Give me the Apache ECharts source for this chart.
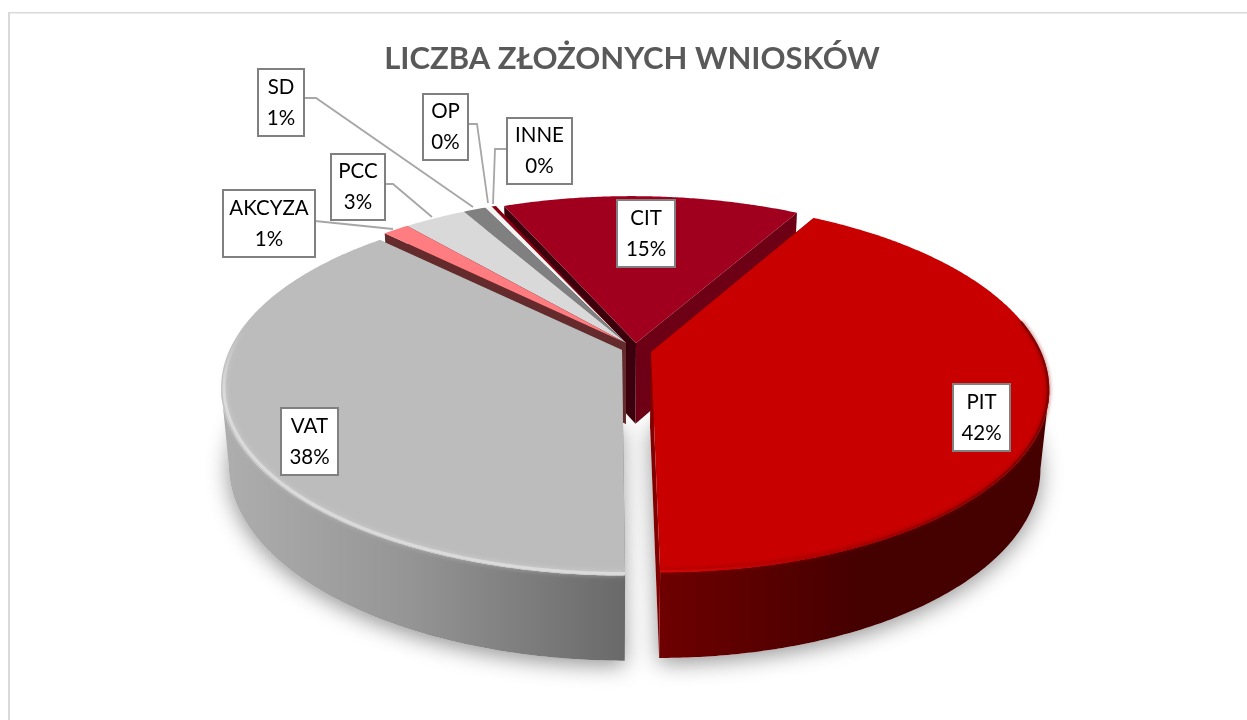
<!DOCTYPE html>
<html>
<head>
<meta charset="utf-8">
<style>html,body{margin:0;padding:0;background:#fff}#c{width:1247px;height:720px}</style>
<script src="https://cdn.jsdelivr.net/npm/echarts@6/dist/echarts.min.js"></script>
</head>
<body>
<div id="c"></div>
<script>
// ---- data (clockwise from the PIT slice) ----
const categories = ['PIT', 'VAT', 'AKCYZA', 'PCC', 'SD', 'OP', 'INNE', 'CIT'];
const values = [41.67, 37.55, 1.3, 3.1, 1.11, 0.33, 0.22, 14.72];
const titleText = 'LICZBA ZŁOŻONYCH WNIOSKÓW';

// ---- styling and layout (separate from data) ----
const firstAngle = 30;
const topColors  = ['#c80000', '#bcbcbc', '#ff7c80', '#d9d9d9', '#808080', '#f4f4f4', '#8a0010', '#a0001e'];
const faceStart  = ['#800000', '#777777', '#652a2c', '#7a7a7a', '#4a4a4a', '#999999', '#5a0010', '#3c000c'];
const faceEnd    = ['#800000', '#777777', '#652a2c', '#7a7a7a', '#4a4a4a', '#999999', '#5a0010', '#6e0015'];
const explodeX   = [41, 12, 16, 16, 16, 16, 16, 26];
const explodeY   = [3, 1, -6, -6, -6, -6, -6, -6];
const radiusX    = [390, 392.5, 390, 390, 390, 390, 390, 390];
const radiusY    = [179, 178, 179, 179, 179, 179, 179, 179];
const tiltK      = [0.184, 0.21, 0.21, 0.21, 0.21, 0.21, 0.21, 0.21];
const lowShift   = [1, 0, 5, 5, 5, 5, 5, 5];
const drawOrder  = [7, 6, 5, 4, 3, 2, 1, 0];
const labelBoxes = [[953,384,57,67],[281,408,57,67],[223,190,92,67],[331,154,54,66],[258,69,46,67],[423,94,45,66],[507,118,65,66],[617,200,58,67]];
const leaders = {
  2: [[315,221],[393,229]],
  3: [[385,184],[393,184],[432,217]],
  4: [[304,98],[316,98],[473,207]],
  5: [[468,124],[477,124],[488,203]],
  6: [[507,149],[495,149],[493,204]]
};
const labelFont = 'Lato';

const CX = 610, CY = 349;
const total = values.reduce((a, b) => a + b, 0);
const spans = [];
let run = firstAngle;
values.forEach(v => { const s = v / total * 360; spans.push([run, run + s]); run += s; });

function topPt(i, deg, r) {
  const t = deg * Math.PI / 180, u = Math.sin(t) * r, v = -Math.cos(t) * r, d = 1 - tiltK[i] * v;
  return [CX + (radiusX[i] * u + explodeX[i]) / d, CY + (radiusY[i] * v + explodeY[i]) / d];
}
function low(p, i) {
  return [CX + (p[0] - CX) * 0.98, 425 + lowShift[i] + (p[1] - CY) * 1.04];
}
function arc(i, a, b, r) {
  const pts = [], n = Math.max(2, Math.ceil(Math.abs(b - a) * 2));
  for (let j = 0; j <= n; j++) pts.push(topPt(i, a + (b - a) * j / n, r === undefined ? 1 : r));
  return pts;
}
function hGrad(x0, x1, stops) {
  return { type: 'linear', x: x0, y: 0, x2: x1, y2: 0, global: true,
    colorStops: stops.map(s => ({ offset: s[0], color: s[1] })) };
}
function vGrad(y0, y1, stops) {
  return { type: 'linear', x: 0, y: y0, x2: 0, y2: y1, global: true,
    colorStops: stops.map(s => ({ offset: s[0], color: s[1] })) };
}
const wallFill = {
  0: hGrad(660, 860, [[0, '#6e0000'], [1, '#450000']]),
  1: hGrad(230, 626, [[0, '#adadad'], [0.45, '#959595'], [1, '#696969']])
};

// outline of the visible outer wall: the near part of the lower rim, then the
// silhouette jump to the upper rim, and back along the upper rim
function wallOutline(i, top) {
  const lows = top.map(p => low(p, i));
  const dir = i === 1 ? -1 : 1;   // VAT's widest point is on the left, PIT's on the right
  const ext = pts => pts.reduce((best, p, k) => (p[0] * dir > pts[best][0] * dir ? k : best), 0);
  const jt = ext(top), jl = ext(lows);
  if (i === 1) {
    return lows.slice(0, jl + 1).concat(top.slice(0, jt + 1).reverse());
  }
  return lows.slice(jl).concat(top.slice(jt).reverse());
}

function renderShadow(params) {
  const i = drawOrder[params.dataIndex];
  if (i > 1) return { type: 'group', children: [] };
  const [a, b] = spans[i];
  const pts = arc(i, a, b).map(p => low(p, i));
  pts.push(low(topPt(i, a, 0), i));
  return { type: 'polygon', shape: { points: pts },
    style: { fill: '#ffffff', shadowBlur: 22, shadowColor: 'rgba(0,0,0,0.42)', shadowOffsetY: 5 } };
}

function renderSlice(params) {
  const i = drawOrder[params.dataIndex];
  const [a, b] = spans[i];
  const apex = topPt(i, a, 0), rimA = topPt(i, a, 1), rimB = topPt(i, b, 1);
  const ch = [];
  ch.push({ type: 'polygon', shape: { points: [apex, rimB, low(rimB, i), low(apex, i)] }, style: { fill: faceEnd[i] } });
  ch.push({ type: 'polygon', shape: { points: [apex, rimA, low(rimA, i), low(apex, i)] }, style: { fill: faceStart[i] } });
  const top = arc(i, a, b);
  if (wallFill[i]) {
    ch.push({ type: 'polygon', shape: { points: wallOutline(i, top) }, style: { fill: wallFill[i] } });
  }
  ch.push({ type: 'polygon', shape: { points: [apex].concat(top) }, style: { fill: topColors[i] } });
  if (i === 1) {
    ch.push({ type: 'polyline', shape: { points: arc(i, a, Math.min(b, 296), 0.993) },
      style: { fill: null, lineWidth: 3,
        stroke: vGrad(330, 395, [[0, 'rgba(222,222,222,0)'], [1, 'rgba(222,222,222,0.85)']]),
        shadowBlur: 5, shadowColor: 'rgba(222,222,222,0.8)' } });
  }
  if (i === 0) {
    ch.push({ type: 'polyline', shape: { points: arc(i, 80, b, 0.997) },
      style: { fill: null, lineWidth: 2.5,
        stroke: hGrad(660, 1050, [[0, '#d40606'], [0.4, '#b40000'], [0.8, '#8e0000'], [1, '#860000']]),
        shadowBlur: 4, shadowColor: 'rgba(130,0,0,0.8)' } });
  }
  return { type: 'group', children: ch };
}

function renderLabel(params) {
  const i = params.dataIndex;
  const [x, y, w, h] = labelBoxes[i];
  const ch = [];
  if (leaders[i]) {
    ch.push({ type: 'polyline', shape: { points: leaders[i] },
      style: { fill: null, stroke: '#a6a6a6', lineWidth: 1.8 } });
  }
  ch.push({ type: 'rect', shape: { x, y, width: w, height: h },
    style: { fill: '#ffffff', stroke: '#808080', lineWidth: 2 } });
  const pct = Math.round(values[i] / total * 100);
  ch.push({ type: 'text', style: {
    x: x + w / 2, y: y + h / 2, text: categories[i] + '\n' + pct + '%',
    align: 'center', verticalAlign: 'middle', fill: '#000000',
    fontFamily: labelFont, fontSize: 20.5, lineHeight: 31 } });
  return { type: 'group', children: ch };
}

const chart = echarts.init(document.getElementById('c'), null, { renderer: 'canvas' });
chart.setOption({
  animation: false,
  backgroundColor: '#ffffff',
  title: {
    text: titleText, left: 627, top: 38, textAlign: 'center',
    textStyle: { fontFamily: 'Lato', fontWeight: 'bold', fontSize: 31, color: '#595959' }
  },
  graphic: [
    { type: 'rect', shape: { x: 8, y: 12, width: 2, height: 708 }, style: { fill: '#d9d9d9' } },
    { type: 'rect', shape: { x: 8, y: 12, width: 1239, height: 1.5 }, style: { fill: '#d9d9d9' } }
  ],
  series: [
    { type: 'custom', coordinateSystem: 'none', z: 1, silent: true, renderItem: renderShadow,
      data: drawOrder.map(i => values[i]) },
    { type: 'custom', coordinateSystem: 'none', z: 2, silent: true, renderItem: renderSlice,
      data: drawOrder.map(i => values[i]) },
    { type: 'custom', coordinateSystem: 'none', z: 3, silent: true, renderItem: renderLabel,
      data: values }
  ]
});
</script>
</body>
</html>
